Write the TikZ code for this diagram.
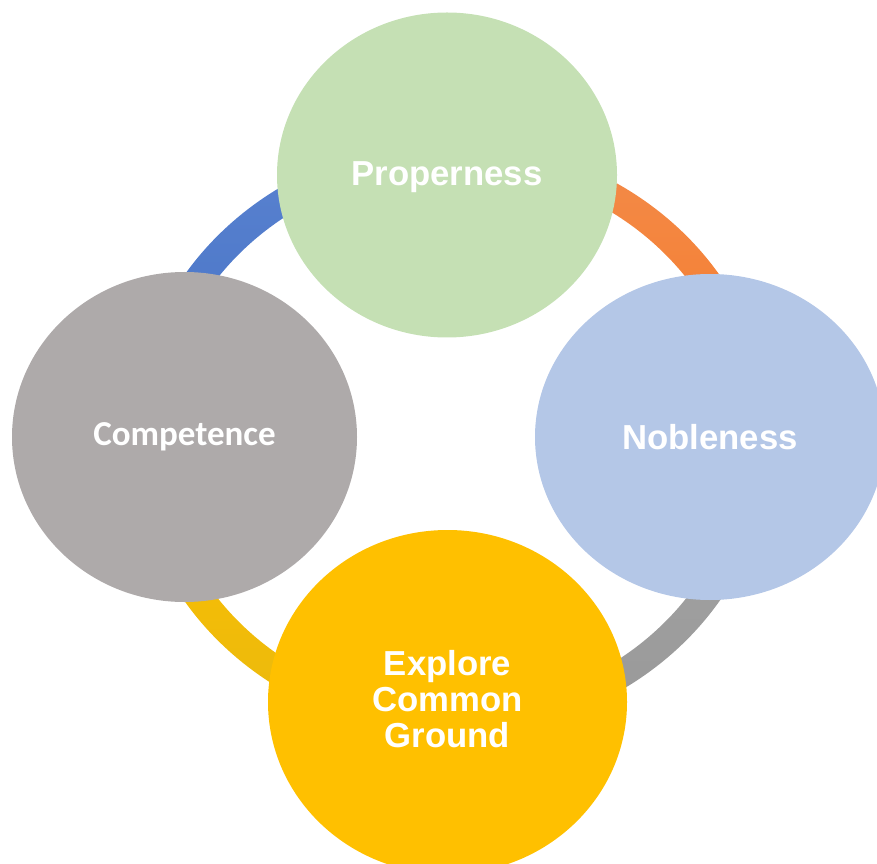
\documentclass[tikz,border=0pt]{standalone}
\usepackage{fontspec}
\setmainfont{Liberation Sans}
\newfontfamily\carlito{Carlito}
\usetikzlibrary{shapes.geometric,calc}
\definecolor{cgreen}{HTML}{C5E0B4}
\definecolor{cblue}{HTML}{B4C7E7}
\definecolor{cgray}{HTML}{AEAAAA}
\definecolor{cyellow}{HTML}{FFC000}
\definecolor{rblueA}{HTML}{5A82D0}
\definecolor{rblueB}{HTML}{4472C4}
\definecolor{rorangeA}{HTML}{F38B4A}
\definecolor{rorangeB}{HTML}{F57A28}
\definecolor{rgrayA}{HTML}{A6A6A6}
\definecolor{rgrayB}{HTML}{989898}
\definecolor{ryellowA}{HTML}{FFC000}
\definecolor{ryellowB}{HTML}{E9B90E}
\tikzset{
  bubble/.style={ellipse, inner sep=0pt, text=white, align=center,
    font=\fontsize{34.7}{36}\selectfont\bfseries},
  bubbletext/.style={inner sep=0pt, text=white, align=center,
    font=\fontsize{34.7}{36}\selectfont\bfseries},
}
\begin{document}
\begin{tikzpicture}[x=1pt,y=1pt]
\useasboundingbox (0,0) rectangle (877,863);
\clip (0,0) rectangle (877,863);
\coordinate (ringc) at (452,425);
\def\Rox{320}\def\Roy{297}
\def\Rix{291}\def\Riy{270}
% ring segments
\shade[top color=rblueA, bottom color=rblueB]
  ($(ringc)+(0,\Roy)$) arc[start angle=90,end angle=180,x radius=\Rox,y radius=\Roy]
  -- ($(ringc)+(-\Rix,0)$) arc[start angle=180,end angle=90,x radius=\Rix,y radius=\Riy] -- cycle;
\shade[top color=rorangeA, bottom color=rorangeB]
  ($(ringc)+(\Rox,0)$) arc[start angle=0,end angle=90,x radius=\Rox,y radius=\Roy]
  -- ($(ringc)+(0,\Riy)$) arc[start angle=90,end angle=0,x radius=\Rix,y radius=\Riy] -- cycle;
\shade[top color=rgrayA, bottom color=rgrayB]
  ($(ringc)+(0,-\Roy)$) arc[start angle=270,end angle=360,x radius=\Rox,y radius=\Roy]
  -- ($(ringc)+(\Rix,0)$) arc[start angle=0,end angle=-90,x radius=\Rix,y radius=\Riy] -- cycle;
\shade[top color=ryellowA, bottom color=ryellowB]
  ($(ringc)+(-\Rox,0)$) arc[start angle=180,end angle=270,x radius=\Rox,y radius=\Roy]
  -- ($(ringc)+(0,-\Riy)$) arc[start angle=270,end angle=180,x radius=\Rix,y radius=\Riy] -- cycle;
% bubbles
\node[bubble, fill=cgreen, minimum width=340pt, minimum height=325pt] (prop) at (447,688) {};
\node[bubbletext] (proptext) at ([yshift=-2pt]prop.center) {Properness};
\node[bubble, fill=cblue, minimum width=350pt, minimum height=326pt] (nob) at (710,426) {Nobleness};
\node[bubble, fill=cgray, minimum width=345pt, minimum height=330pt, font=\fontsize{35}{36}\selectfont\carlito\bfseries] (comp) at (184.5,426) {Competence};
\node[bubble, fill=cyellow, minimum width=359pt, minimum height=344pt] (expl) at (447.5,161) {};
\node[bubbletext] (expltext) at ([yshift=3pt]expl.center) {Explore\\Common\\Ground};
\end{tikzpicture}
\end{document}
